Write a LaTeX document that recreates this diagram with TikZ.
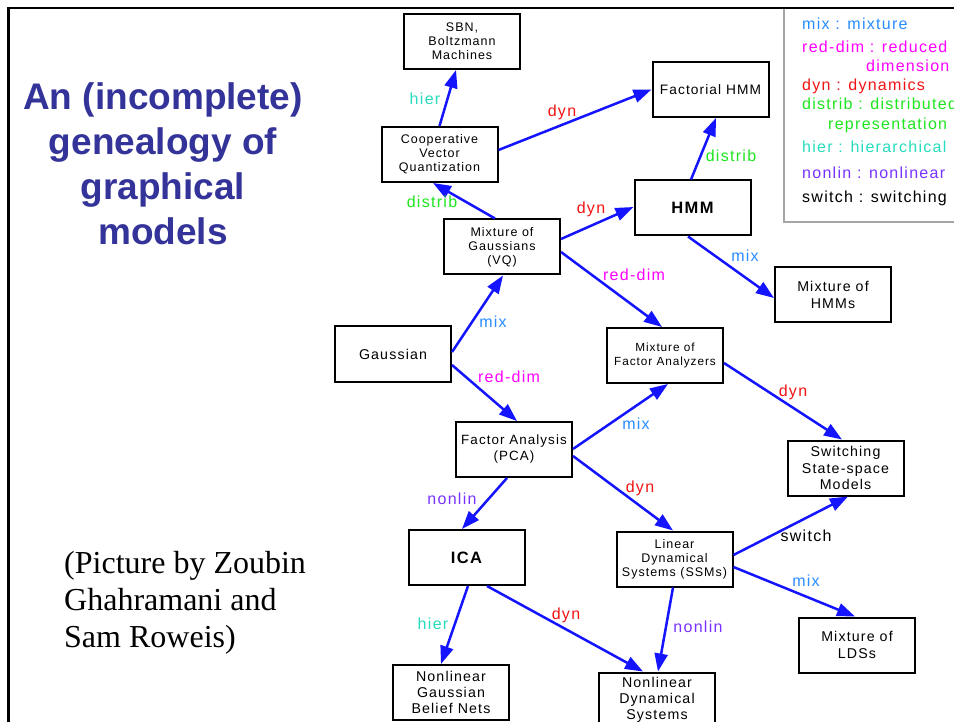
\documentclass[tikz,border=0pt]{standalone}
\usepackage{fontspec}
\setmainfont{Liberation Serif}
\newfontfamily\trackedsans[LetterSpace=8]{Liberation Sans}
\newfontfamily\plainsans{Liberation Sans}
\usetikzlibrary{arrows.meta}
\definecolor{arrowblue}{RGB}{20,20,255}
\definecolor{mixc}{RGB}{40,140,255}
\definecolor{redimc}{RGB}{255,0,255}
\definecolor{dync}{RGB}{240,20,20}
\definecolor{distc}{RGB}{30,230,30}
\definecolor{hierc}{RGB}{40,220,190}
\definecolor{nonlinc}{RGB}{120,50,255}
\definecolor{titlec}{RGB}{51,51,153}
\definecolor{keyframe}{RGB}{165,165,165}

\begin{document}
\begin{tikzpicture}[x=1pt,y=-1pt,
  model/.style={draw=black, line width=2pt, minimum width=116pt, minimum height=55pt,
                inner sep=1pt, align=center, text=black},
  smallmodel/.style={model, font=\trackedsans\fontsize{12.5}{14}\selectfont},
  midmodel/.style={model, font=\trackedsans\fontsize{14.2}{16.2}\selectfont},
  bigmodel/.style={model, font=\trackedsans\bfseries\fontsize{16.5}{18}\selectfont},
  link/.style={draw=arrowblue, line width=2.5pt, -{Triangle[length=18pt,width=13pt]}},
  lab/.style={anchor=base, inner sep=0pt, font=\trackedsans\fontsize{16}{18}\selectfont},
  key/.style={anchor=base west, inner sep=0pt, font=\trackedsans\fontsize{16}{18}\selectfont},
  headline/.style={anchor=base, inner sep=0pt, text=titlec,
                   font=\plainsans\bfseries\fontsize{37}{45}\selectfont},
  credit/.style={anchor=base west, inner sep=0pt, font=\fontsize{32}{37}\selectfont},
]
\useasboundingbox (0,0) rectangle (954,722);
\clip (0,0) rectangle (954,722);
\fill[white] (0,0) rectangle (954,722);

% legend of edge labels
\draw[draw=keyframe, line width=1.5pt] (784,8) rectangle (975,222);
\node[key, text=mixc]    (k1) at (802,30)  {mix : mixture};
\node[key, text=redimc]  (k2) at (802,53)  {red-dim : reduced};
\node[key, text=redimc]  (k3) at (866,72)  {dimension};
\node[key, text=dync]    (k4) at (802,91)  {dyn : dynamics};
\node[key, text=distc]   (k5) at (802,110) {distrib : distributed};
\node[key, text=distc]   (k6) at (828,130) {representation};
\node[key, text=hierc]   (k7) at (802,153) {hier : hierarchical};
\node[key, text=nonlinc] (k8) at (802,179) {nonlin : nonlinear};
\node[key, text=black]   (k9) at (802,203) {switch : switching};

% slide frame
\draw[line width=2.7pt] (8.7,722) -- (8.7,8) -- (954,8);

% heading and credit
\node[headline] (t1) at (163,110) {An (incomplete)};
\node[headline] (t2) at (163,155) {genealogy of};
\node[headline] (t3) at (163,200) {graphical};
\node[headline] (t4) at (163,245) {models};
\node[credit] (c1) at (64,573) {(Picture by Zoubin};
\node[credit] (c2) at (64,610) {Ghahramani and};
\node[credit] (c3) at (64,647) {Sam Roweis)};

% models
\node[smallmodel] (sbn)   at (462,41.5)  {SBN,\\Boltzmann\\Machines};
\node[midmodel, font=\trackedsans\fontsize{13.7}{16}\selectfont] (fhmm) at (710.5,89.5) {Factorial HMM};
\node[smallmodel] (cvq)   at (439.5,154.5) {Cooperative\\Vector\\Quantization};
\node[bigmodel]   (hmm)   at (692.5,208)  {HMM};
\node[smallmodel] (mog)   at (502,247)    {Mixture of\\Gaussians\\(VQ)};
\node[midmodel]   (gauss) at (393,354)    {Gaussian};
\node[smallmodel, font=\trackedsans\fontsize{11.8}{14}\selectfont] (mfa) at (665,355.5) {Mixture of\\Factor Analyzers};
\node[midmodel, font=\trackedsans\fontsize{13.4}{16}\selectfont] (fa) at (514,449.5) {Factor Analysis\\(PCA)};
\node[midmodel]   (mohmm) at (833,295)    {Mixture of\\HMMs};
\node[midmodel]   (ssm)   at (845.5,468)  {Switching\\State-space\\Models};
\node[bigmodel]   (ica)   at (466.5,557.5) {ICA};
\node[smallmodel] (lds)   at (674.5,559)  {Linear\\Dynamical\\Systems (SSMs)};
\node[midmodel]   (ngbn)  at (451,692.5)  {Nonlinear\\Gaussian\\Belief Nets};
\node[midmodel]   (nlds)  at (657,700)    {Nonlinear\\Dynamical\\Systems};
\node[midmodel]   (molds) at (857,645)    {Mixture of\\LDSs};

% relations
\draw[link] (cvq.north) -- ([xshift=-6pt]sbn.south);
\draw[link] ([yshift=4.5pt]cvq.east) -- (fhmm.west);
\draw[link] ([xshift=-1.5pt]hmm.north) -- ([xshift=5.5pt]fhmm.south);
\draw[link] ([xshift=-7pt]mog.north) -- ([xshift=-6.5pt]cvq.south);
\draw[link] ([yshift=8pt]mog.east) -- ([yshift=1pt]hmm.west);
\draw[link] ([xshift=-4.5pt]hmm.south) -- ([yshift=-3pt]mohmm.west);
\draw[link] ([yshift=-5pt]mog.east) -- ([xshift=-3pt]mfa.north);
\draw[link] ([yshift=2pt]gauss.east) -- ([xshift=1pt]mog.south);
\draw[link] ([yshift=-11pt]gauss.east) -- ([xshift=3pt]fa.north);
\draw[link] ([yshift=0.5pt]fa.east) -- ([xshift=3pt]mfa.south);
\draw[link] ([yshift=-7.5pt]mfa.east) -- ([xshift=-3.5pt]ssm.north);
\draw[link] ([yshift=-6.5pt]fa.east) -- ([xshift=-1.5pt]lds.north);
\draw[link] ([xshift=-7pt]fa.south) -- ([xshift=-4.5pt]ica.north);
\draw[link] ([yshift=4pt]lds.east) -- ([xshift=2.5pt]ssm.south);
\draw[link] ([yshift=-8pt]lds.east) -- ([xshift=-2pt]molds.north);
\draw[link] ([xshift=-1.5pt]lds.south) -- ([xshift=1pt]nlds.north);
\draw[link] ([xshift=20.5pt]ica.south) -- ([xshift=-14pt]nlds.north);
\draw[link] ([xshift=1.5pt]ica.south) -- ([xshift=-10pt]ngbn.north);

% relation labels
\node[lab, text=hierc]   (lhier1) at (425,105) {hier};
\node[lab, text=dync]    (ldyn1)  at (562,117) {dyn};
\node[lab, text=distc]   (ldist1) at (731,162) {distrib};
\node[lab, text=distc]   (ldist2) at (432,208) {distrib};
\node[lab, text=dync]    (ldyn2)  at (591,214) {dyn};
\node[lab, text=mixc]    (lmix1)  at (745,262) {mix};
\node[lab, text=redimc]  (lred1)  at (634,281) {red-dim};
\node[lab, text=mixc]    (lmix2)  at (493,327) {mix};
\node[lab, text=redimc]  (lred2)  at (509,382) {red-dim};
\node[lab, text=mixc]    (lmix3)  at (636,429) {mix};
\node[lab, text=dync]    (ldyn3)  at (793,396) {dyn};
\node[lab, text=dync]    (ldyn4)  at (640,492) {dyn};
\node[lab, text=nonlinc] (lnon1)  at (452,504) {nonlin};
\node[lab, text=black]   (lsw)    at (806,541) {switch};
\node[lab, text=mixc]    (lmix4)  at (806,586) {mix};
\node[lab, text=nonlinc] (lnon2)  at (698,632) {nonlin};
\node[lab, text=dync]    (ldyn5)  at (566,619) {dyn};
\node[lab, text=hierc]   (lhier2) at (433,629) {hier};
\end{tikzpicture}
\end{document}
